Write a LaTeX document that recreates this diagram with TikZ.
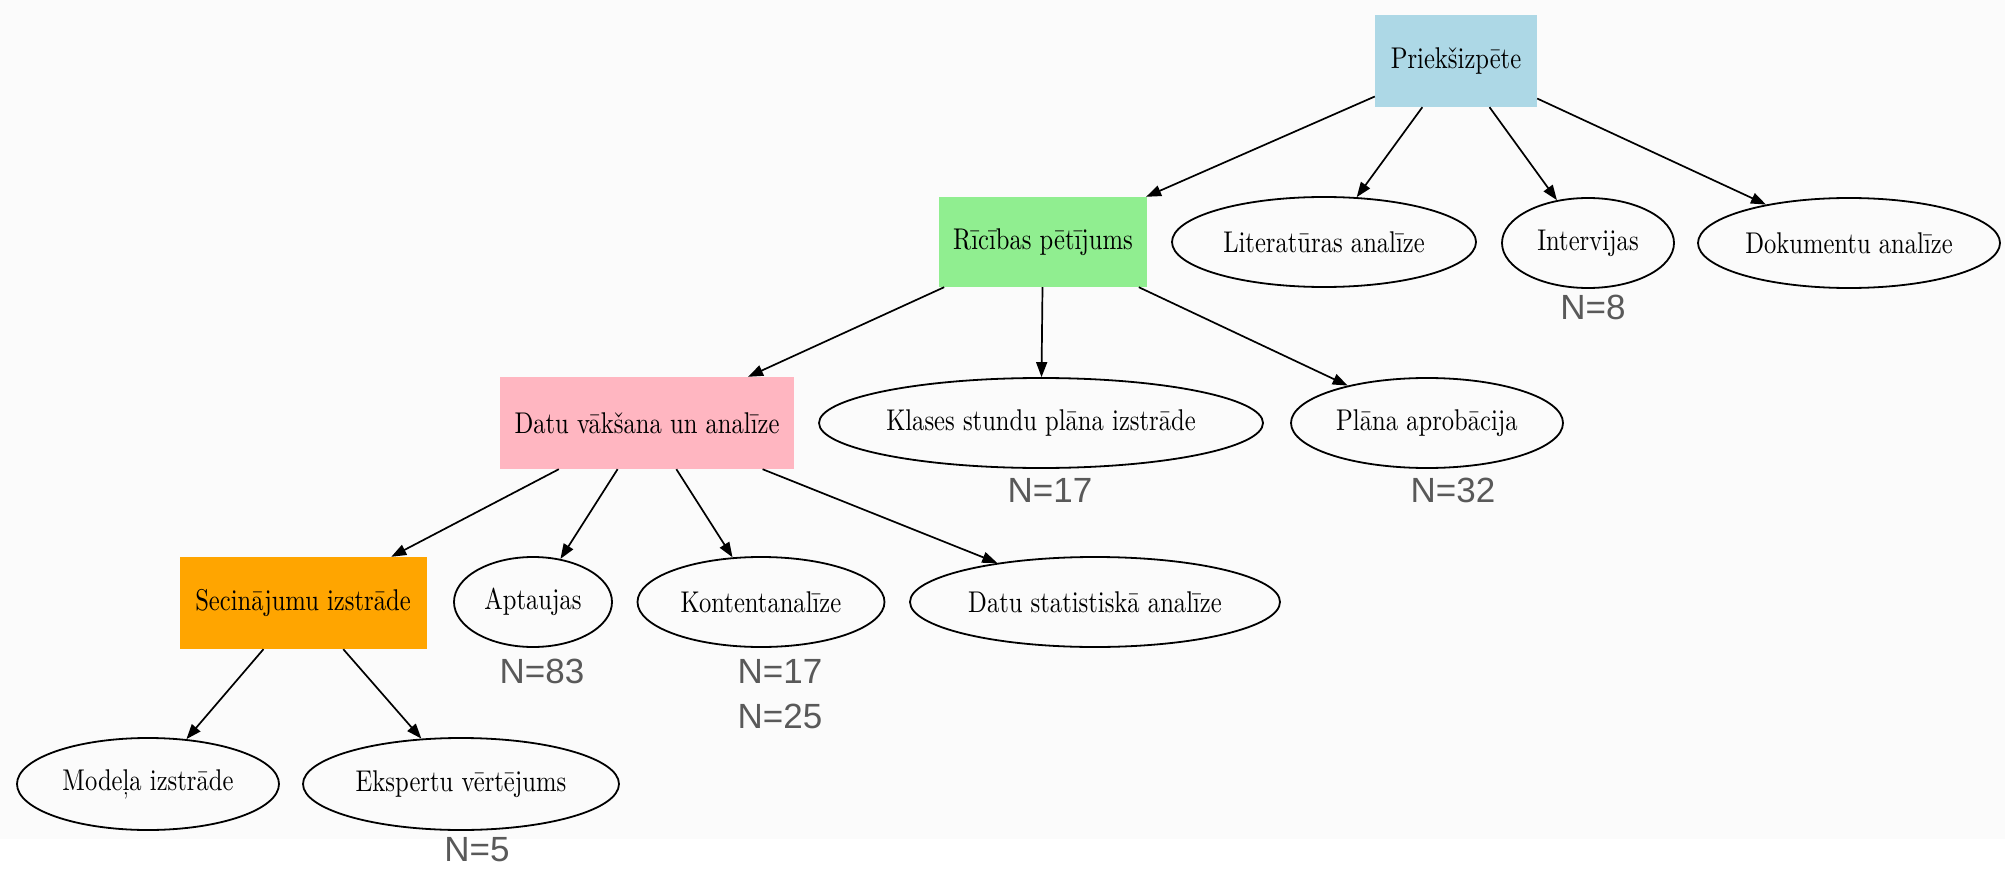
\documentclass[tikz,border=0pt]{standalone}
\usepackage{fontspec}
\newfontfamily\nodefont{lmroman10-regular}[Extension=.otf,FakeStretch=0.82]
\newfontfamily\labfont{Liberation Sans}
\usetikzlibrary{shapes.geometric,arrows.meta}
\definecolor{cblue}{HTML}{ADD8E6}
\definecolor{cgreen}{HTML}{90EE90}
\definecolor{cpink}{HTML}{FFB6C1}
\definecolor{corange}{HTML}{FFA500}
\definecolor{labgray}{HTML}{595959}
\definecolor{bgc}{HTML}{FBFBFB}
\tikzset{
  box/.style={rectangle, inner sep=0pt, font=\nodefont\fontsize{30}{36}\selectfont},
  ell/.style={ellipse, draw=black, line width=1.8pt, inner sep=0pt, font=\nodefont\fontsize{30}{36}\selectfont},
  nlab/.style={font=\labfont\fontsize{35}{40}\selectfont, text=labgray, inner sep=0pt},
  link/.style={draw=black, line width=1.7pt, -{Triangle[length=15pt,width=11pt]}},
}
\begin{document}
\begin{tikzpicture}[x=1pt,y=-1pt]
\useasboundingbox (0,0) rectangle (2005,869);
\fill[bgc] (0,0) rectangle (2005,839);
% level 0
\node[box, fill=cblue, minimum width=162pt, minimum height=92pt] (prek) at (1456,61) {Priekšizpēte};
% level 1
\node[box, fill=cgreen, minimum width=208pt, minimum height=90pt] (ric) at (1043,242) {Rīcības pētījums};
\node[ell, minimum width=304pt, minimum height=90pt] (lit) at (1324,242) {Literatūras analīze};
\node[ell, minimum width=172pt, minimum height=90pt] (int) at (1588,243) {Intervijas};
\node[ell, minimum width=302pt, minimum height=90pt] (dok) at (1849,243) {Dokumentu analīze};
% level 2
\node[box, fill=cpink, minimum width=294pt, minimum height=92pt] (datu) at (647,423) {Datu vākšana un analīze};
\node[ell, minimum width=444pt, minimum height=90pt] (kla) at (1041,423) {Klases stundu plāna izstrāde};
\node[ell, minimum width=272pt, minimum height=90pt] (pla) at (1427,423) {Plāna aprobācija};
% level 3
\node[box, fill=corange, minimum width=247pt, minimum height=92pt] (sec) at (303,603) {Secinājumu izstrāde};
\node[ell, minimum width=158pt, minimum height=90pt] (apt) at (533,602) {Aptaujas};
\node[ell, minimum width=247pt, minimum height=90pt] (kon) at (761,602) {Kontentanalīze};
\node[ell, minimum width=370pt, minimum height=90pt] (dst) at (1095,602) {Datu statistiskā analīze};
% level 4
\node[ell, minimum width=262pt, minimum height=92pt] (mod) at (148,784) {Modeļa izstrāde};
\node[ell, minimum width=316pt, minimum height=92pt] (eks) at (461,784) {Ekspertu vērtējums};
% labels
\node[nlab] (n8) at (1593,307) {N=8};
\node[nlab] (n17a) at (1050,490) {N=17};
\node[nlab] (n32) at (1453,490) {N=32};
\node[nlab] (n83) at (542,671) {N=83};
\node[nlab] (n17b) at (780,671) {N=17};
\node[nlab] (n25) at (780,716) {N=25};
\node[nlab] (n5) at (477,850) {N=5};
% edges
\draw[link] (prek) -- (ric);
\draw[link] (prek) -- (lit);
\draw[link] (prek) -- (int);
\draw[link] (prek) -- (dok);
\draw[link] (ric) -- (datu);
\draw[link] (ric) -- (kla);
\draw[link] (ric) -- (pla);
\draw[link] (datu) -- (sec);
\draw[link] (datu) -- (apt);
\draw[link] (datu) -- (kon);
\draw[link] (datu) -- (dst);
\draw[link] (sec) -- (mod);
\draw[link] (sec) -- (eks);
\end{tikzpicture}
\end{document}
